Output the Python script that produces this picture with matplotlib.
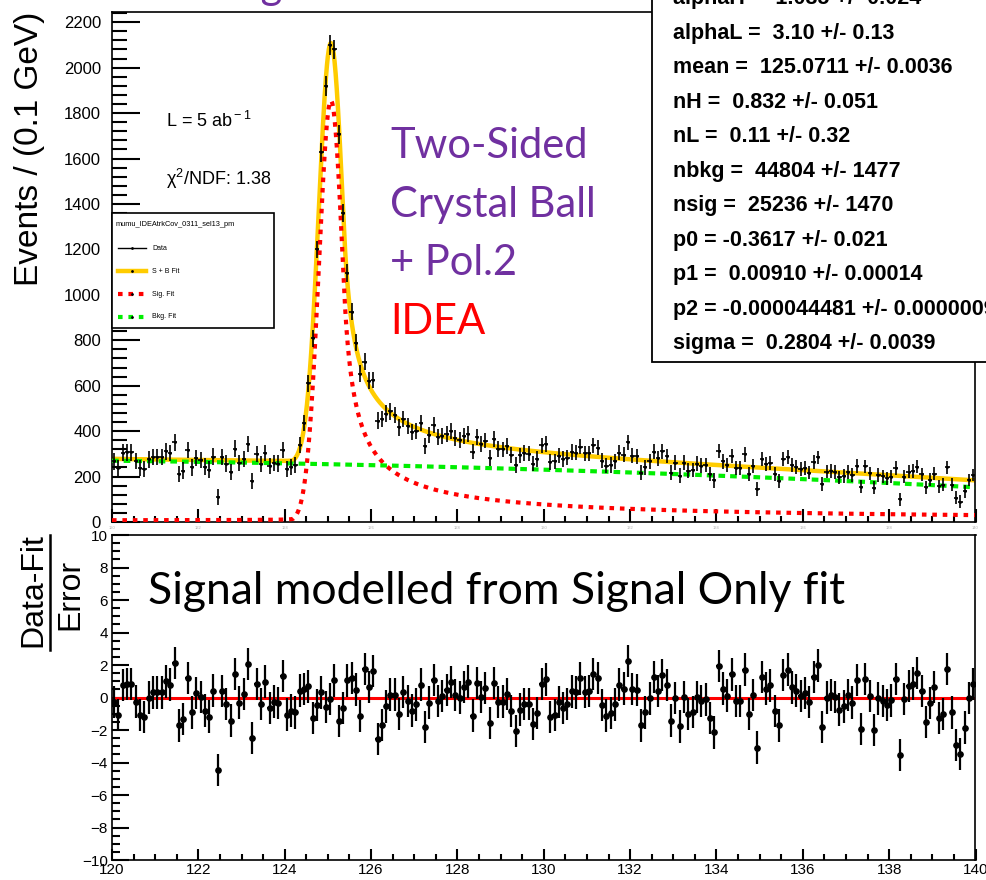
import numpy as np
import matplotlib.pyplot as plt
from matplotlib.patches import Rectangle
from matplotlib.lines import Line2D
from matplotlib.ticker import MultipleLocator

plt.rcParams['font.family'] = ['Liberation Sans', 'DejaVu Sans']
plt.rcParams['mathtext.fontset'] = 'custom'
plt.rcParams['mathtext.rm'] = 'Liberation Sans'
plt.rcParams['mathtext.it'] = 'Liberation Sans:italic'

# fit results (double-sided crystal ball + polynomial)
alphaH, alphaL = 1.085, 3.10
mean, sigma = 125.0711, 0.2804
nH, nL = 0.832, 0.11
nbkg, nsig = 44804, 25236
p0, p1, p2 = -0.3617, 0.00910, -0.000044481

# per-event weights of the signal and background samples
w_sig, w_bkg = 0.3, 4.9

stat_lines = [
    "alphaH =  1.085 +/- 0.024",
    "alphaL =  3.10 +/- 0.13",
    "mean =  125.0711 +/- 0.0036",
    "nH =  0.832 +/- 0.051",
    "nL =  0.11 +/- 0.32",
    "nbkg =  44804 +/- 1477",
    "nsig =  25236 +/- 1470",
    "p0 = -0.3617 +/- 0.021",
    "p1 =  0.00910 +/- 0.00014",
    "p2 = -0.000044481 +/- 0.0000009",
    "sigma =  0.2804 +/- 0.0039",
]

# (data - fit) / error per 0.1 GeV bin, 120 -> 140 GeV
pulls = [
    -0.29, -1.07, 0.78, 0.82, 0.82, -0.25, -1.07, -1.21, 0.00, 0.31,
    0.31, 0.31, 1.00, 0.80, 2.11, -1.72, -1.31, 1.19, -0.92, 0.27,
    0.02, -0.80, -1.17, 0.43, -4.47, 0.39, -0.39, -1.42, 1.46, -0.31,
    0.23, 2.05, -2.50, 0.84, -0.39, 0.98, -0.66, -0.25, -0.33, 1.31,
    -1.05, -0.80, -0.92, 0.43, 0.51, 0.68, -1.25, -0.47, 0.31, -0.59,
    -0.10, 1.05, -1.46, -0.64, 1.05, 1.21, 0.49, -1.15, 1.74, 0.64,
    1.62, -2.56, -1.70, -0.55, 0.18, 0.18, -1.03, 0.35, -0.23, -0.80,
    -0.43, 0.80, -1.83, -0.31, 1.09, -0.21, 0.10, 0.45, 0.96, 0.14,
    0.00, 0.66, 0.98, -1.11, 0.88, 0.04, 0.57, -1.58, 0.90, -0.29,
    -0.25, 0.23, -0.82, -2.07, -0.74, -0.39, -0.39, -1.64, -0.96, 0.84,
    1.11, -1.21, -1.07, -0.29, -0.64, -0.41, 0.37, 0.31, 1.17, 0.33,
    0.39, 1.46, 1.21, -0.45, -1.11, -0.94, -0.43, 0.80, 0.55, 2.24,
    0.53, 0.45, -1.72, -0.92, -0.06, 1.25, 0.41, 1.39, 0.78, -1.42,
    -0.02, -1.78, 0.02, -1.01, -0.88, 0.02, -0.23, -0.12, -1.27, -2.15,
    1.95, 0.55, 0.12, 1.42, -0.23, -0.23, 1.72, -1.01, 0.14, -3.08,
    1.27, 0.55, 0.74, -0.82, -1.72, 1.39, 1.72, 0.62, 0.43, 0.10,
    0.29, -0.29, 1.25, 1.97, -1.83, 0.00, 0.14, 0.04, -0.74, -0.55,
    0.14, -0.31, 1.09, -1.95, 1.13, 0.10, -1.99, -0.06, -0.23, -0.47,
    -0.18, 1.15, -3.53, -0.10, 0.72, 0.86, 1.52, 0.41, -1.52, -0.35,
    0.64, -1.25, -1.01, 1.76, -0.92, -2.91, -3.49, -1.85, -0.02, 0.82,
]

xlo, xhi, width = 120.0, 140.0, 0.1


def dscb(x):
    t = (x - mean) / sigma
    out = np.exp(-0.5 * t ** 2)
    AL = (nL / alphaL) ** nL * np.exp(-0.5 * alphaL ** 2)
    BL = nL / alphaL - alphaL
    AH = (nH / alphaH) ** nH * np.exp(-0.5 * alphaH ** 2)
    BH = nH / alphaH - alphaH
    lo = t < -alphaL
    hi = t > alphaH
    out[lo] = AL * (BL - t[lo]) ** (-nL)
    out[hi] = AH * (BH + t[hi]) ** (-nH)
    return out


def pol(x):
    return 1 + p0 * x + p1 * x ** 2 + p2 * x ** 3


grid = np.linspace(xlo, xhi, 4001)
sig_norm = np.trapezoid(dscb(grid), grid)
bkg_norm = np.trapezoid(pol(grid), grid)


def sig_curve(x):
    return nsig * width * dscb(x) / sig_norm


def bkg_curve(x):
    return nbkg * width * pol(x) / bkg_norm


centers = xlo + width * (np.arange(len(pulls)) + 0.5)
pulls = np.array(pulls)
s_c, b_c = sig_curve(centers), bkg_curve(centers)
errors = np.sqrt(w_sig * s_c + w_bkg * b_c)
counts = s_c + b_c + pulls * errors

W, H = 987, 880
def fx(px): return px / W
def fy(py): return 1 - py / H

fig = plt.figure(figsize=(W / 100, H / 100), dpi=100)
ax = fig.add_axes([fx(112), fy(522), fx(975.5) - fx(112), fy(12) - fy(522)])
axr = fig.add_axes([fx(112), fy(860), fx(975.5) - fx(112), fy(535) - fy(860)])

# upper pad: data and fit components
ax.plot(grid, sig_curve(grid) + bkg_curve(grid), color='#FFCC00', lw=3.2, zorder=2)
ax.plot(grid, sig_curve(grid), color='#FF0000', lw=3, ls=(0, (1.1, 1.4)), zorder=3)
ax.plot(grid, bkg_curve(grid), color='#00EE00', lw=3, ls=(0, (1.6, 1.2)), zorder=3)
ax.errorbar(centers, counts, yerr=errors, xerr=width / 2, fmt='.',
            ms=2, color='black', elinewidth=1.2, capsize=0, zorder=4)
ax.set_xlim(xlo, xhi)
ax.set_ylim(0, 2245)
ax.yaxis.set_major_locator(MultipleLocator(200))
ax.yaxis.set_minor_locator(MultipleLocator(40))
ax.xaxis.set_major_locator(MultipleLocator(2))
ax.xaxis.set_minor_locator(MultipleLocator(0.5))
ax.tick_params(axis='y', which='major', direction='in', length=20, width=1.5,
               labelsize=12, pad=8)
ax.tick_params(axis='y', which='minor', direction='in', length=11, width=1.5)
ax.tick_params(axis='x', which='major', direction='in', length=9.5, width=1.5,
               labelsize=3, labelcolor='0.7', pad=3)
ax.tick_params(axis='x', which='minor', direction='in', length=4.5, width=1.5)
for s in ax.spines.values():
    s.set_linewidth(1.2)

# lower pad: pulls
axr.axhline(0, color='#FF0000', lw=2.2, zorder=2)
axr.errorbar(centers, pulls, yerr=1, xerr=width / 2, fmt='o', ms=3.8,
             color='black', elinewidth=1.6, capsize=0, zorder=3)
axr.set_xlim(xlo, xhi)
axr.set_ylim(-10, 10)
axr.yaxis.set_major_locator(MultipleLocator(2))
axr.yaxis.set_minor_locator(MultipleLocator(0.5))
axr.xaxis.set_major_locator(MultipleLocator(2))
axr.xaxis.set_minor_locator(MultipleLocator(0.5))
axr.tick_params(axis='y', which='major', direction='in', length=12, width=1.5,
                labelsize=11, pad=3)
axr.tick_params(axis='y', which='minor', direction='in', length=6, width=1.5)
axr.tick_params(axis='x', which='major', direction='in', length=8, width=1.5,
                labelsize=11, pad=2)
axr.tick_params(axis='x', which='minor', direction='in', length=4.3, width=1.5)
for s in axr.spines.values():
    s.set_linewidth(1.2)

# axis titles
fig.text(fx(30), fy(149), 'Events / (0.1 GeV)', rotation=90, fontsize=24,
         ha='center', va='center')
fig.text(fx(33), fy(590), 'Data-Fit', rotation=90, fontsize=23,
         ha='center', va='center')
fig.add_artist(Line2D([fx(50), fx(50)], [fy(535), fy(650)], color='black',
                      lw=1.8, transform=fig.transFigure))
fig.text(fx(70), fy(594), 'Error', rotation=90, fontsize=23,
         ha='center', va='center')

# annotations
fig.text(fx(166), fy(121), r'L = 5 ab$^{\rm -1}$', fontsize=13, va='center')
fig.text(fx(166), fy(179), r'χ$^{\rm 2}$/NDF: 1.38', fontsize=13, va='center')

label_font = ['Lato', 'DejaVu Sans']
purple = '#7030A0'
fig.text(fx(172), fy(-1), 'Background', fontsize=30, color=purple,
         family=label_font, va='baseline')
for k, line in enumerate(['Two-Sided', 'Crystal Ball', '+ Pol.2']):
    fig.text(fx(390), fy(146 + 58.5 * k), line, fontsize=30, color=purple,
             family=label_font, va='center')
fig.text(fx(390), fy(322), 'IDEA', fontsize=30, color='#FF0000',
         family=label_font, va='center')
fig.text(fx(148), fy(592), 'Signal modelled from Signal Only fit', fontsize=32,
         color='black', family=label_font, va='center')

# legend box
fig.add_artist(Rectangle((fx(112), fy(328)), fx(274) - fx(112), fy(213) - fy(328),
                         facecolor='white', edgecolor='black', lw=1.2,
                         transform=fig.transFigure, zorder=5))
fig.text(fx(116), fy(224), 'mumu_IDEAtrkCov_0311_sel13_pm', fontsize=5.3,
         va='center', zorder=6)
entries = [
    ('Data', dict(color='black', lw=1)),
    ('S + B Fit', dict(color='#FFCC00', lw=3.2)),
    ('Sig. Fit', dict(color='#FF0000', lw=3, ls=(0, (1.1, 1.4)))),
    ('Bkg. Fit', dict(color='#00EE00', lw=3, ls=(0, (1.1, 1.4)))),
]
for k, (name, style) in enumerate(entries):
    yy = fy(248 + 23 * k)
    fig.add_artist(Line2D([fx(118), fx(146)], [yy, yy], transform=fig.transFigure,
                          zorder=6, **style))
    fig.add_artist(Line2D([fx(132)], [yy], marker='.', ms=2, color='black',
                          transform=fig.transFigure, zorder=7))
    fig.text(fx(152), yy, name, fontsize=5, va='center', zorder=6)

# fit parameter box
fig.add_artist(Rectangle((fx(652), fy(362)), fx(1000) - fx(652), fy(-20) - fy(362),
                         facecolor='white', edgecolor='black', lw=1.3,
                         transform=fig.transFigure, zorder=5))
for k, line in enumerate(stat_lines):
    fig.text(fx(673), fy(-1.5 + 34.55 * k), line, fontsize=15.5, fontweight='bold',
             va='center', zorder=6)

fig.savefig('out.png', dpi=100)
